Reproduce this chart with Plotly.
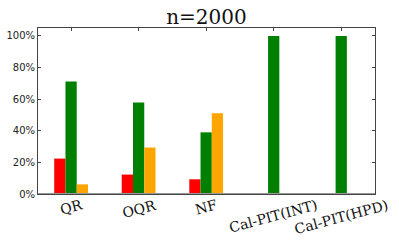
import plotly.graph_objects as go

categories = ["QR", "OQR", "NF", "Cal-PIT(INT)", "Cal-PIT(HPD)"]
red_vals = [0.224, 0.123, 0.093, 0.0, 0.0]
green_vals = [0.712, 0.579, 0.390, 1.0, 1.0]
orange_vals = [0.061, 0.294, 0.510, 0.0, 0.0]
y_ticks = [0, 0.2, 0.4, 0.6, 0.8, 1.0]
title_text = "n=2000"

x_idx = list(range(len(categories)))

fig = go.Figure()
for vals, col in [(red_vals, "#ff0000"), (green_vals, "#008000"), (orange_vals, "#ffa500")]:
    fig.add_trace(go.Bar(x=x_idx, y=vals, marker=dict(color=col, line=dict(width=0)),
                         showlegend=False, hoverinfo="skip"))

for i, c in enumerate(categories):
    fig.add_annotation(x=i, xref="x", y=0.0, yref="paper", text=c, showarrow=False,
                       textangle=-15, xanchor="center", yanchor="top",
                       font=dict(family="DejaVu Serif", size=14, color="#111"))

fig.add_shape(type="line", xref="paper", x0=0, x1=1, yref="y", y0=0, y1=0,
              line=dict(color="#999999", width=2))

fig.update_layout(
    width=399, height=249,
    margin=dict(l=38, r=24, t=28, b=55),
    paper_bgcolor="white", plot_bgcolor="white",
    barmode="group", bargap=0.5, bargroupgap=0,
    title=dict(text=title_text, x=0.5, xref="paper", xanchor="center",
               y=0.905, yref="container", yanchor="bottom", automargin=False,
               font=dict(family="DejaVu Serif", size=20, color="#111")),
    xaxis=dict(range=[-0.49, 4.5], tickvals=x_idx, showticklabels=False,
               ticks="inside", ticklen=3, tickcolor="#444", showline=True,
               linecolor="#444", linewidth=1, mirror="ticks", showgrid=False,
               zeroline=False, automargin=False),
    yaxis=dict(range=[0, 1.05], tickvals=y_ticks, tickformat=".0%",
               ticks="inside", ticklen=3, tickcolor="#444", showline=True,
               linecolor="#444", linewidth=1, mirror="ticks", showgrid=False,
               zeroline=False, ticklabelstandoff=0, automargin=False,
               tickfont=dict(family="DejaVu Sans", size=10, color="#222")),
)

fig.write_html("out.html", config={"displayModeBar": False},
               post_script="document.body.style.margin='0';")
